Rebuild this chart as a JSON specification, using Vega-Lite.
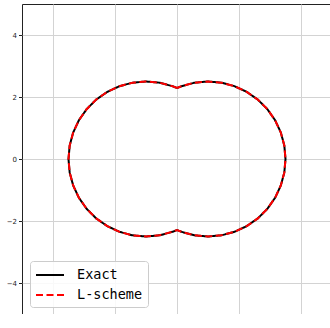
{
  "$schema": "https://vega.github.io/schema/vega-lite/v6.json",
  "width": 310,
  "height": 310,
  "autosize": {"type": "none"},
  "padding": {"left": 22, "top": 4, "right": 0, "bottom": 0},
  "background": "white",
  "config": {
    "view": {"stroke": "#222", "strokeWidth": 1},
    "axis": {
      "domain": false,
      "grid": true,
      "gridColor": "#d3d3d3",
      "gridWidth": 1,
      "tickColor": "#222",
      "tickSize": 3.5,
      "labelFont": "DejaVu Sans",
      "labelFontSize": 7,
      "labelColor": "#222",
      "labelPadding": 2,
      "title": null
    }
  },
  "data": {
    "values": [
      {"i": 0, "x": 0.0, "y": 2.291},
      {"i": 1, "x": -0.145, "y": 2.349},
      {"i": 2, "x": -0.566, "y": 2.462},
      {"i": 3, "x": -1.0, "y": 2.5},
      {"i": 4, "x": -1.434, "y": 2.462},
      {"i": 5, "x": -1.855, "y": 2.349},
      {"i": 6, "x": -2.25, "y": 2.165},
      {"i": 7, "x": -2.607, "y": 1.915},
      {"i": 8, "x": -2.915, "y": 1.607},
      {"i": 9, "x": -3.165, "y": 1.25},
      {"i": 10, "x": -3.349, "y": 0.855},
      {"i": 11, "x": -3.462, "y": 0.434},
      {"i": 12, "x": -3.5, "y": 0.0},
      {"i": 13, "x": -3.462, "y": -0.434},
      {"i": 14, "x": -3.349, "y": -0.855},
      {"i": 15, "x": -3.165, "y": -1.25},
      {"i": 16, "x": -2.915, "y": -1.607},
      {"i": 17, "x": -2.607, "y": -1.915},
      {"i": 18, "x": -2.25, "y": -2.165},
      {"i": 19, "x": -1.855, "y": -2.349},
      {"i": 20, "x": -1.434, "y": -2.462},
      {"i": 21, "x": -1.0, "y": -2.5},
      {"i": 22, "x": -0.566, "y": -2.462},
      {"i": 23, "x": -0.145, "y": -2.349},
      {"i": 24, "x": 0.0, "y": -2.291},
      {"i": 25, "x": 0.145, "y": -2.349},
      {"i": 26, "x": 0.566, "y": -2.462},
      {"i": 27, "x": 1.0, "y": -2.5},
      {"i": 28, "x": 1.434, "y": -2.462},
      {"i": 29, "x": 1.855, "y": -2.349},
      {"i": 30, "x": 2.25, "y": -2.165},
      {"i": 31, "x": 2.607, "y": -1.915},
      {"i": 32, "x": 2.915, "y": -1.607},
      {"i": 33, "x": 3.165, "y": -1.25},
      {"i": 34, "x": 3.349, "y": -0.855},
      {"i": 35, "x": 3.462, "y": -0.434},
      {"i": 36, "x": 3.5, "y": 0.0},
      {"i": 37, "x": 3.462, "y": 0.434},
      {"i": 38, "x": 3.349, "y": 0.855},
      {"i": 39, "x": 3.165, "y": 1.25},
      {"i": 40, "x": 2.915, "y": 1.607},
      {"i": 41, "x": 2.607, "y": 1.915},
      {"i": 42, "x": 2.25, "y": 2.165},
      {"i": 43, "x": 1.855, "y": 2.349},
      {"i": 44, "x": 1.434, "y": 2.462},
      {"i": 45, "x": 1.0, "y": 2.5},
      {"i": 46, "x": 0.566, "y": 2.462},
      {"i": 47, "x": 0.145, "y": 2.349},
      {"i": 48, "x": 0.0, "y": 2.291}
    ]
  },
  "encoding": {
    "x": {
      "field": "x",
      "type": "quantitative",
      "scale": {"domain": [-5, 5], "nice": false, "zero": false},
      "axis": {"values": [-4, -2, 0, 2, 4]}
    },
    "y": {
      "field": "y",
      "type": "quantitative",
      "scale": {"domain": [-5, 5], "nice": false, "zero": false},
      "axis": {"values": [-4, -2, 0, 2, 4]}
    },
    "order": {"field": "i", "type": "quantitative"}
  },
  "layer": [
    {
      "mark": {"type": "line", "strokeWidth": 2, "strokeCap": "butt"},
      "encoding": {
        "color": {
          "datum": "Exact",
          "type": "nominal",
          "title": null,
          "scale": {"domain": ["Exact", "L-scheme"], "range": ["#000000", "#ff0000"]},
          "legend": {
            "orient": "none",
            "legendX": 8,
            "legendY": 257,
            "symbolType": "M-1,0H2.5",
            "symbolSize": 256,
            "symbolStrokeWidth": 2,
            "labelFont": "DejaVu Sans Mono",
            "labelFontSize": 13.5,
            "labelColor": "#000",
            "labelOffset": 24,
            "rowPadding": 4,
            "padding": 5,
            "fillColor": "rgba(255,255,255,0.85)",
            "strokeColor": "#cccccc",
            "cornerRadius": 3
          }
        },
        "strokeDash": {
          "datum": "Exact",
          "type": "nominal",
          "title": null,
          "scale": {"domain": ["Exact", "L-scheme"], "range": [[1, 0], [7, 3.5]]}
        }
      }
    },
    {
      "mark": {"type": "line", "strokeWidth": 2, "strokeCap": "butt"},
      "encoding": {
        "color": {"datum": "L-scheme", "type": "nominal"},
        "strokeDash": {"datum": "L-scheme", "type": "nominal"}
      }
    }
  ]
}
